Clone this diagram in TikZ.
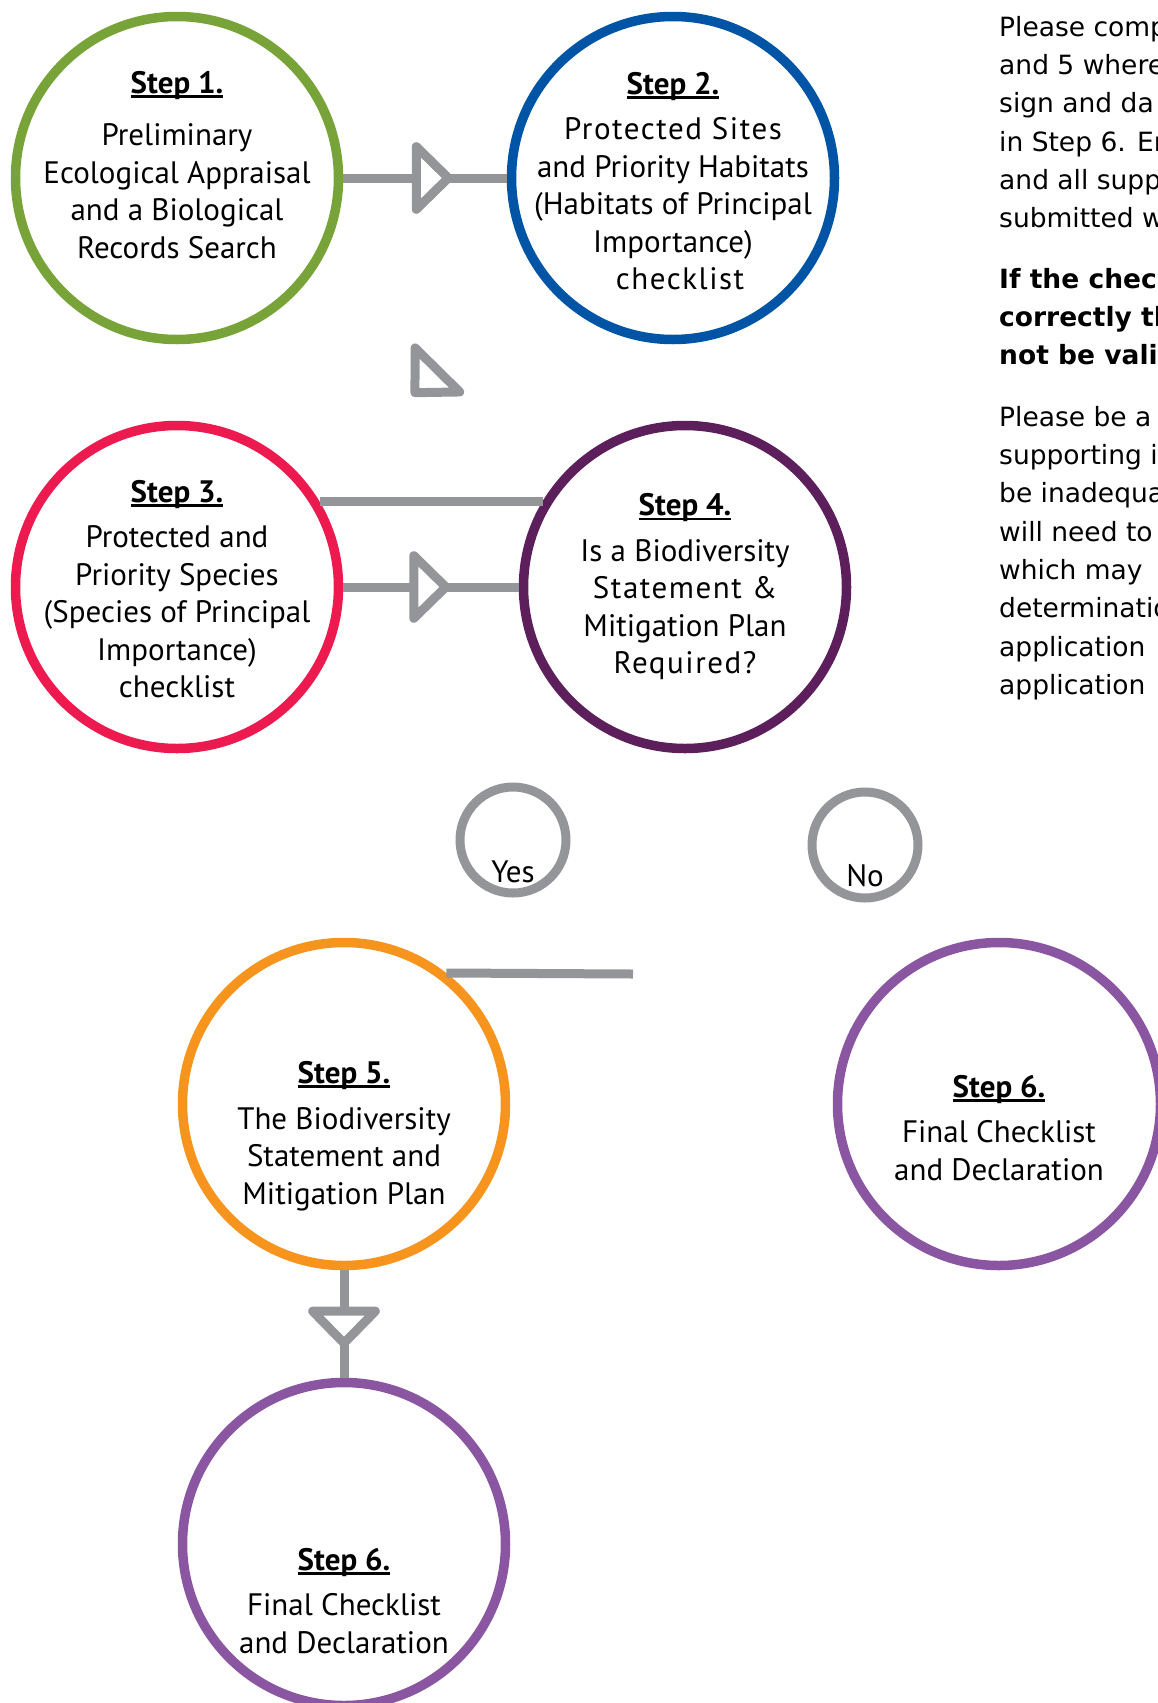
\documentclass[tikz,border=0pt]{standalone}
\usepackage{fontspec}
\setmainfont{PT Sans}
\newfontfamily\notefont{DejaVu Sans}
\usepackage{tikz}
\usetikzlibrary{positioning,arrows.meta,decorations.markings}

\definecolor{stepgreen}{HTML}{77A339}
\definecolor{stepblue}{HTML}{0054A5}
\definecolor{stepred}{HTML}{EC1A4F}
\definecolor{stepplum}{HTML}{5C1F5B}
\definecolor{steporange}{HTML}{F7941E}
\definecolor{steppurple}{HTML}{8A56A1}
\definecolor{flowgray}{HTML}{939598}

\newcommand{\stephead}[1]{\setbox0=\hbox{\bfseries #1}\rlap{\rule[-4.5pt]{\wd0}{2.7pt}}\box0}
\newcommand{\wideline}[1]{{\addfontfeature{LetterSpace=5}#1}}

\tikzset{
    flowtip/.tip = {Triangle[fill=white, length=43pt, width=82pt, round]},
    tri at/.style = {postaction={decorate, decoration={markings, mark=at position #1 with {\arrow{flowtip}}}}},
    stepnode/.style = {circle, draw, line width=9.5pt, minimum size=323pt, inner sep=0pt},
    steptext/.style = {align=center, inner sep=0pt, font=\fontsize{31}{37.5}\selectfont},
    choice/.style = {circle, draw=flowgray, line width=9pt, minimum size=106pt, inner sep=0pt},
    flowline/.style = {color=flowgray, line width=9pt},
    note/.style = {align=left, anchor=north west, inner sep=0pt, font=\notefont\fontsize{26.5}{38.3}\selectfont}
}

\begin{document}
\begin{tikzpicture}[x=1pt, y=-1pt, node distance=496pt]
    \useasboundingbox (0,0) rectangle (1157,1703);
    % Nodes
    \node[stepnode, draw=stepgreen] (step1) at (177,178) {};
    \node[stepnode, draw=stepblue, right of=step1] (step2) {};
    \node[stepnode, draw=stepred, below of=step1, node distance=409pt] (step3) {};
    \node[stepnode, draw=stepplum, right of=step3, node distance=508pt] (step4) {};
    \node[stepnode, draw=steporange] (step5) at (344,1104) {};
    \node[stepnode, draw=steppurple, right of=step5, node distance=655pt] (step6) {};
    \node[stepnode, draw=steppurple, below of=step5, node distance=440pt] (step6b) {};

    \node[choice] (yes) at (513,840) {};
    \node[choice] (no) at (865,845) {};

    % Texts
    \node[steptext] (step1text) at ([yshift=13pt]step1) {\stephead{Step 1.}\\[15pt] Preliminary\\ Ecological Appraisal\\ and a Biological\\ Records Search};
    \node[steptext] (step2text) at ([yshift=-3pt]step2) {\stephead{Step 2.}\\[8pt] \wideline{Protected Sites}\\ and Priority Habitats\\ (Habitats of Principal\\ Importance)\\ \hspace*{14pt}\wideline{checklist}};
    \node[steptext] (step3text) at ([yshift=-2pt]step3) {\stephead{Step 3.}\\[8pt] Protected and\\ Priority Species\\ (Species of Principal\\ Importance)\\ checklist};
    \node[steptext] (step4text) at (step4) {\stephead{Step 4.}\\[8pt] Is a Biodiversity\\ \wideline{Statement \&}\\ Mitigation Plan\\ \wideline{Required?}};
    \node[steptext] (step5text) at ([yshift=-32pt]step5) {\stephead{Step 5.}\\[8pt] The Biodiversity\\ Statement and\\ Mitigation Plan};
    \node[steptext] (step6text) at ([yshift=-24pt]step6) {\stephead{Step 6.}\\[8pt] Final Checklist\\ and Declaration};
    \node[steptext] (step6btext) at ([yshift=-57pt]step6b) {\stephead{Step 6.}\\[8pt] Final Checklist\\ and Declaration};

    \node[steptext] (yestext) at ([yshift=-32pt]yes) {Yes};
    \node[steptext] (notext) at ([yshift=-31pt]no) {No};

    \node[note] (note1) at (999,16) {Please comp\\ and 5 where\\ sign and da\\ in Step 6. En\\ and all supp\\ submitted w};
    \node[note, font=\notefont\bfseries\fontsize{26.5}{38.3}\selectfont] (note2) at (999,268) {If the check\\ correctly th\\ not be vali};
    \node[note] (note3) at (999,406) {Please be a\\ supporting i\\ be inadequa\\ will need to\\ which may\\ determinatio\\ application\\ application};

    % Arrows
    \draw[flowline, tri at=0.67] (step1) -- (step2);
    \path[flowline, tri at=0.56] (step2.214) -- (step3.34);
    \draw[flowline] (step3.31) -- (step4.149);
    \draw[flowline, tri at=0.61] (step3) -- (step4);
    \coordinate (yesend) at (633,974);
    \draw[flowline] (step5.52) -- (yesend);
    \draw[flowline, tri at=0.72] (step5) -- (step6b);
\end{tikzpicture}
\end{document}
